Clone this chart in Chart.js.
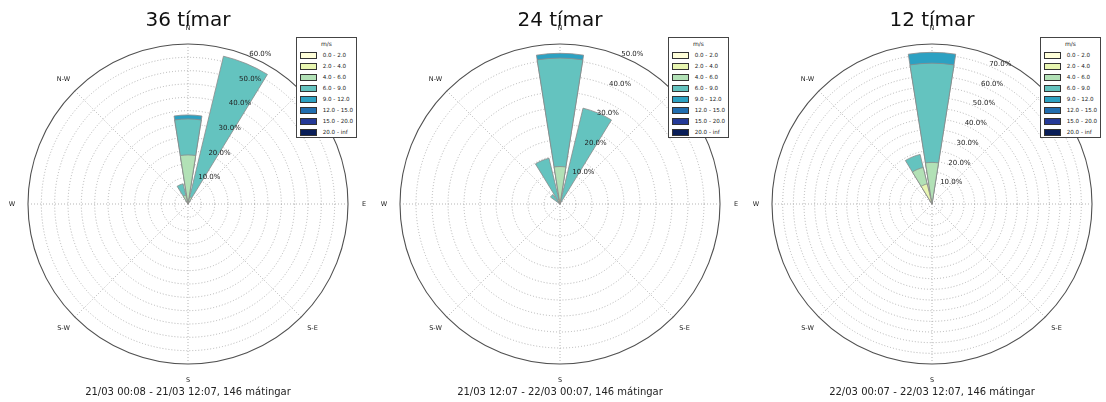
<!DOCTYPE html>
<html>
<head>
<meta charset="utf-8">
<script src="https://cdn.jsdelivr.net/npm/chart.js@4.4.1/dist/chart.umd.min.js"></script>
<style>
  html, body { margin: 0; padding: 0; background: #fff; overflow: hidden; }
  #page { position: relative; width: 1106px; height: 402px; font-family: "DejaVu Sans", sans-serif; color: #222; }
  .rose { position: absolute; top: 0; }
  .title { position: absolute; top: 9px; width: 240px; text-align: center; font-size: 20px; line-height: 20px; color: #111; white-space: nowrap; }
  .caption { position: absolute; top: 387px; width: 300px; text-align: center; font-size: 10px; line-height: 10px; color: #222; white-space: nowrap; }
  .legend { position: absolute; top: 37px; width: 59px; height: 99px; border: 1px solid #444; background: #fff; }
  .legend .head { position: absolute; left: 0; width: 59px; top: 2px; text-align: center; font-size: 6px; line-height: 8px; color: #222; }
  .legend .sw { position: absolute; left: 3px; width: 15px; height: 4.5px; border: 0.8px solid #333; }
  .legend .txt { position: absolute; left: 25.7px; font-size: 5.6px; line-height: 7px; white-space: nowrap; color: #222; }
</style>
</head>
<body>
<div id="page"></div>
<script>
// ---- wind rose data: percent of measurements, 16 sectors clockwise from N ----
const directionLabels = ['N', 'N-E', 'E', 'S-E', 'S', 'S-W', 'W', 'N-W'];
const speedBins = ['0.0 - 2.0', '2.0 - 4.0', '4.0 - 6.0', '6.0 - 9.0', '9.0 - 12.0', '12.0 - 15.0', '15.0 - 20.0', '20.0 - inf'];
const titles = ['36 tímar', '24 tímar', '12 tímar'];
const captions = [
  '21/03 00:08 - 21/03 12:07, 146 mátingar',
  '21/03 12:07 - 22/03 00:07, 146 mátingar',
  '22/03 00:07 - 22/03 12:07, 146 mátingar'
];

//                 N     NNE   NE  ENE E  ESE SE SSE S  SSW SW WSW W  WNW NW   NNW
const h36_b0 = [0,    0,    0, 0,  0, 0,  0, 0,  0, 0,  0, 0,  0, 0,  0,   0];
const h36_b1 = [0.7,  0,    0, 0,  0, 0,  0, 0,  0, 0,  0, 0,  0, 0,  0,   0];
const h36_b2 = [17.7, 2.7,  0, 0,  0, 0,  0, 0,  0, 0,  0, 0,  0, 0,  0,   3.4];
const h36_b3 = [13.5, 54.3, 0, 0,  0, 0,  0, 0,  0, 0,  0, 0,  0, 0,  0,   4.4];
const h36_b4 = [1.5,  0,    0, 0,  0, 0,  0, 0,  0, 0,  0, 0,  0, 0,  0,   0];
const h36_b5 = [0,    0,    0, 0,  0, 0,  0, 0,  0, 0,  0, 0,  0, 0,  0,   0];
const h36_b6 = [0,    0,    0, 0,  0, 0,  0, 0,  0, 0,  0, 0,  0, 0,  0,   0];
const h36_b7 = [0,    0,    0, 0,  0, 0,  0, 0,  0, 0,  0, 0,  0, 0,  0,   0];

const h24_b0 = [0,    0,    0, 0,  0, 0,  0, 0,  0, 0,  0, 0,  0, 0,  0,   0];
const h24_b1 = [1.4,  0,    0, 0,  0, 0,  0, 0,  0, 0,  0, 0,  0, 0,  0,   0];
const h24_b2 = [10.3, 0,    0, 0,  0, 0,  0, 0,  0, 0,  0, 0,  0, 0,  0.7, 1.4];
const h24_b3 = [33.9, 30.8, 0, 0,  0, 0,  0, 0,  0, 0,  0, 0,  0, 0,  3.0, 13.3];
const h24_b4 = [1.5,  0,    0, 0,  0, 0,  0, 0,  0, 0,  0, 0,  0, 0,  0,   0];
const h24_b5 = [0,    0,    0, 0,  0, 0,  0, 0,  0, 0,  0, 0,  0, 0,  0,   0];
const h24_b6 = [0,    0,    0, 0,  0, 0,  0, 0,  0, 0,  0, 0,  0, 0,  0,   0];
const h24_b7 = [0,    0,    0, 0,  0, 0,  0, 0,  0, 0,  0, 0,  0, 0,  0,   0];

const h12_b0 = [0,    0,    0, 0,  0, 0,  0, 0,  0, 0,  0, 0,  0, 0,  0,   0];
const h12_b1 = [0,    0,    0, 0,  0, 0,  0, 0,  0, 0,  0, 0,  0, 0,  0,   9.7];
const h12_b2 = [19.5, 0,    0, 0,  0, 0,  0, 0,  0, 0,  0, 0,  0, 0,  0,   7.9];
const h12_b3 = [46.5, 0,    0, 0,  0, 0,  0, 0,  0, 0,  0, 0,  0, 0,  0,   6.3];
const h12_b4 = [5.1,  0,    0, 0,  0, 0,  0, 0,  0, 0,  0, 0,  0, 0,  0,   0];
const h12_b5 = [0,    0,    0, 0,  0, 0,  0, 0,  0, 0,  0, 0,  0, 0,  0,   0];
const h12_b6 = [0,    0,    0, 0,  0, 0,  0, 0,  0, 0,  0, 0,  0, 0,  0,   0];
const h12_b7 = [0,    0,    0, 0,  0, 0,  0, 0,  0, 0,  0, 0,  0, 0,  0,   0];

const roseBins = [
  [h36_b0, h36_b1, h36_b2, h36_b3, h36_b4, h36_b5, h36_b6, h36_b7],
  [h24_b0, h24_b1, h24_b2, h24_b3, h24_b4, h24_b5, h24_b6, h24_b7],
  [h12_b0, h12_b1, h12_b2, h12_b3, h12_b4, h12_b5, h12_b6, h12_b7]
];

// ---- styling and layout ----
const binColors = ['#ffffd9', '#e8f6b1', '#b2e1b6', '#64c3bf', '#2ca1c2', '#216daf', '#253a97', '#081d58'];
const roseCenters = [188, 560, 932];   // x of each rose centre on the page
const CANVAS_W = 372, CANVAS_H = 402, RADIUS = 160, CENTER_Y = 204;
const SECTORS = 16;
const SECTOR_DEG = 360 / SECTORS;
const BAR_DEG = SECTOR_DEG * 0.8;
const GAP_DEG = SECTOR_DEG - BAR_DEG;
const RING_STEP = 5;
const GRID_COLOR = '#a2a2a2';

// element 0 is a backwards spacer so the first bar is centred on north;
// after it, bars (odd indices) alternate with gaps (even indices)
function sectorOf(i) { return (i % 2 === 1) ? (i - 1) / 2 : -1; }

function buildDatasets(bins) {
  const running = new Array(SECTORS).fill(0);
  return bins.map((bin, k) => {
    for (let s = 0; s < SECTORS; s++) running[s] += bin[s];
    const data = [0];
    for (let s = 0; s < SECTORS; s++) {
      if (s > 0) data.push(0);
      data.push(Math.round(running[s] * 1000) / 1000);
    }
    const own = (i) => { const s = sectorOf(i); return s < 0 ? 0 : bin[s]; };
    return {
      label: speedBins[k],
      data,
      backgroundColor: (c) => own(c.dataIndex) > 0 ? binColors[k] : 'rgba(0,0,0,0)',
      borderColor: '#8a8a8a',
      borderWidth: (c) => own(c.dataIndex) > 0 ? 0.8 : 0,
      angle: (c) => c.dataIndex === 0 ? -BAR_DEG / 2 : (c.dataIndex % 2 === 1 ? BAR_DEG : GAP_DEG)
    };
  });
}

const roseLabels = {
  id: 'roseLabels',
  afterDraw(chart) {
    const r = chart.scales.r;
    const ctx = chart.ctx;
    ctx.save();
    ctx.fillStyle = '#222';
    // percentage rings, every 10 %, along 22.5° east of north
    ctx.font = '7px "DejaVu Sans"';
    ctx.textAlign = 'left';
    ctx.textBaseline = 'alphabetic';
    const a = (22.5 - 90) * Math.PI / 180;
    r.ticks.forEach((t) => {
      if (t.value > 0 && Math.abs(t.value / 10 - Math.round(t.value / 10)) < 1e-9) {
        const d = r.getDistanceFromCenterForValue(t.value);
        ctx.fillText(t.value.toFixed(1) + '%', r.xCenter + d * Math.cos(a), r.yCenter + d * Math.sin(a));
      }
    });
    // compass directions
    ctx.font = '6.5px "DejaVu Sans"';
    ctx.textAlign = 'center';
    ctx.textBaseline = 'middle';
    chart.data.labels.forEach((lab, i) => {
      const p = r.getPointPosition(i, r.drawingArea * 1.1);
      ctx.fillText(lab, p.x, p.y);
    });
    ctx.restore();
  }
};

const page = document.getElementById('page');

roseBins.forEach((bins, idx) => {
  const cx = roseCenters[idx];
  const wrap = document.createElement('div');
  wrap.className = 'rose';
  wrap.style.left = (cx - CANVAS_W / 2) + 'px';
  const canvas = document.createElement('canvas');
  canvas.width = CANVAS_W;
  canvas.height = CANVAS_H;
  wrap.appendChild(canvas);
  page.appendChild(wrap);

  const totals = new Array(SECTORS).fill(0);
  bins.forEach((b) => b.forEach((v, s) => { totals[s] += v; }));
  const rMax = Math.ceil(Math.max(...totals) / RING_STEP) * RING_STEP;

  const side = (CANVAS_W - 2 * RADIUS) / 2;
  new Chart(canvas, {
    type: 'polarArea',
    data: { labels: directionLabels, datasets: buildDatasets(bins) },
    options: {
      responsive: false,
      animation: false,
      events: [],
      layout: { padding: { left: side, right: side, top: CENTER_Y - RADIUS, bottom: CANVAS_H - CENTER_Y - RADIUS } },
      plugins: { legend: { display: false }, tooltip: { enabled: false } },
      scales: {
        r: {
          z: 1,
          min: 0,
          max: rMax,
          startAngle: 0,
          ticks: { display: false, stepSize: RING_STEP },
          pointLabels: { display: false },
          grid: {
            circular: true,
            color: (c) => c.index === c.scale.ticks.length - 1 ? '#505050' : GRID_COLOR,
            lineWidth: (c) => c.index === c.scale.ticks.length - 1 ? 1.1 : 0.8
          },
          border: { dash: (c) => c.index === c.scale.ticks.length - 1 ? [] : [1, 2] },
          angleLines: { display: true, color: GRID_COLOR, lineWidth: 0.8, borderDash: [1, 2] }
        }
      }
    },
    plugins: [roseLabels]
  });

  const title = document.createElement('div');
  title.className = 'title';
  title.style.left = (cx - 120) + 'px';
  title.textContent = titles[idx];
  page.appendChild(title);

  const cap = document.createElement('div');
  cap.className = 'caption';
  cap.style.left = (cx - 150) + 'px';
  cap.textContent = captions[idx];
  page.appendChild(cap);

  const lg = document.createElement('div');
  lg.className = 'legend';
  lg.style.left = (cx + 108) + 'px';
  const head = document.createElement('div');
  head.className = 'head';
  head.textContent = 'm/s';
  lg.appendChild(head);
  speedBins.forEach((name, k) => {
    const yc = 17 + 11 * k;
    const sw = document.createElement('div');
    sw.className = 'sw';
    sw.style.top = (yc - 3) + 'px';
    sw.style.background = binColors[k];
    lg.appendChild(sw);
    const tx = document.createElement('div');
    tx.className = 'txt';
    tx.style.top = (yc - 3.5) + 'px';
    tx.textContent = name;
    lg.appendChild(tx);
  });
  page.appendChild(lg);
});
</script>
</body>
</html>
